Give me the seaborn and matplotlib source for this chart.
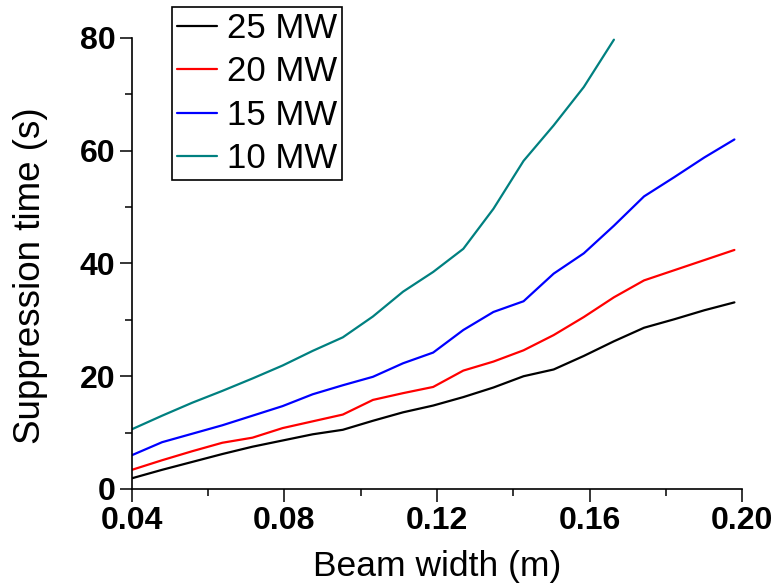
import numpy as np
import pandas as pd
import matplotlib
matplotlib.use("Agg")
import matplotlib.pyplot as plt
from matplotlib.ticker import MultipleLocator
import seaborn as sns

# Beam width samples (m)
beam_width = [0.0400, 0.0479, 0.0558, 0.0637, 0.0716, 0.0795, 0.0874,
              0.0953, 0.1032, 0.1111, 0.1190, 0.1269, 0.1348, 0.1427,
              0.1506, 0.1585, 0.1664, 0.1743, 0.1822, 0.1901, 0.1980]

# Suppression time (s) for each beam power
t_25mw = [1.9, 3.4, 4.8, 6.2, 7.5, 8.6, 9.7, 10.5, 12.1, 13.6, 14.8,
          16.3, 18.0, 20.0, 21.2, 23.6, 26.2, 28.6, 30.1, 31.7, 33.1]
t_20mw = [3.4, 5.1, 6.7, 8.2, 9.1, 10.8, 12.0, 13.2, 15.8, 17.0, 18.1,
          21.0, 22.6, 24.6, 27.3, 30.5, 34.0, 37.0, 38.8, 40.6, 42.4]
t_15mw = [6.0, 8.3, 9.8, 11.3, 13.0, 14.7, 16.8, 18.4, 19.9, 22.3, 24.2,
          28.2, 31.4, 33.3, 38.2, 41.8, 46.7, 51.9, 55.3, 58.8, 62.0]
t_10mw = [10.6, 13.0, 15.3, 17.4, 19.6, 21.9, 24.5, 26.9, 30.6, 35.0,
          38.5, 42.6, 49.7, 58.2, 64.5, 71.3, 79.7]

labels = ["25 MW", "20 MW", "15 MW", "10 MW"]
colors = ["#000000", "#FF0000", "#0000FF", "#008080"]
series = [t_25mw, t_20mw, t_15mw, t_10mw]

frames = []
for lab, ys in zip(labels, series):
    frames.append(pd.DataFrame({"width": beam_width[:len(ys)],
                                "time": ys, "power": lab}))
df = pd.concat(frames, ignore_index=True)

sns.set_style("ticks")
plt.rcParams["font.family"] = ["Liberation Sans", "DejaVu Sans"]
plt.rcParams["text.color"] = "black"
plt.rcParams["axes.labelcolor"] = "black"

fig = plt.figure(figsize=(7.74, 5.88), dpi=100)
ax = fig.add_axes([0.1705, 0.1684, 0.7882, 0.767])

sns.lineplot(data=df, x="width", y="time", hue="power", hue_order=labels,
             palette=dict(zip(labels, colors)), linewidth=1.6,
             sort=False, estimator=None, ax=ax)

ax.set_xlim(0.04, 0.20)
ax.set_ylim(0, 80)
ax.xaxis.set_major_locator(MultipleLocator(0.04))
ax.xaxis.set_minor_locator(MultipleLocator(0.02))
ax.yaxis.set_major_locator(MultipleLocator(20))
ax.yaxis.set_minor_locator(MultipleLocator(10))
ax.set_xticklabels([f"{v:.2f}" for v in ax.get_xticks()])

for s in ["top", "right"]:
    ax.spines[s].set_visible(False)
for s in ["left", "bottom"]:
    ax.spines[s].set_linewidth(1.2)
    ax.spines[s].set_color("black")

ax.tick_params(which="major", direction="out", length=9, width=1.1,
               colors="black", labelsize=23, pad=3)
ax.tick_params(which="minor", direction="out", length=5, width=1.1,
               colors="black")
for lbl in ax.get_xticklabels() + ax.get_yticklabels():
    lbl.set_fontweight("bold")

ax.set_xlabel("Beam width (m)", fontsize=25.5, labelpad=10)
ax.set_ylabel("Suppression time (s)", fontsize=26.5)
ax.yaxis.set_label_coords(-0.137, 0.473)

leg = ax.legend(loc="upper left", bbox_to_anchor=(0.222, 0.988),
                bbox_transform=fig.transFigure, fontsize=25, frameon=True,
                fancybox=False, edgecolor="black", framealpha=1,
                borderaxespad=0, borderpad=0.14, handlelength=1.15,
                handletextpad=0.29, labelspacing=0.3)
leg.get_frame().set_linewidth(1.2)
for line in leg.get_lines():
    line.set_linewidth(1.6)

fig.savefig("out.png", dpi=100)
